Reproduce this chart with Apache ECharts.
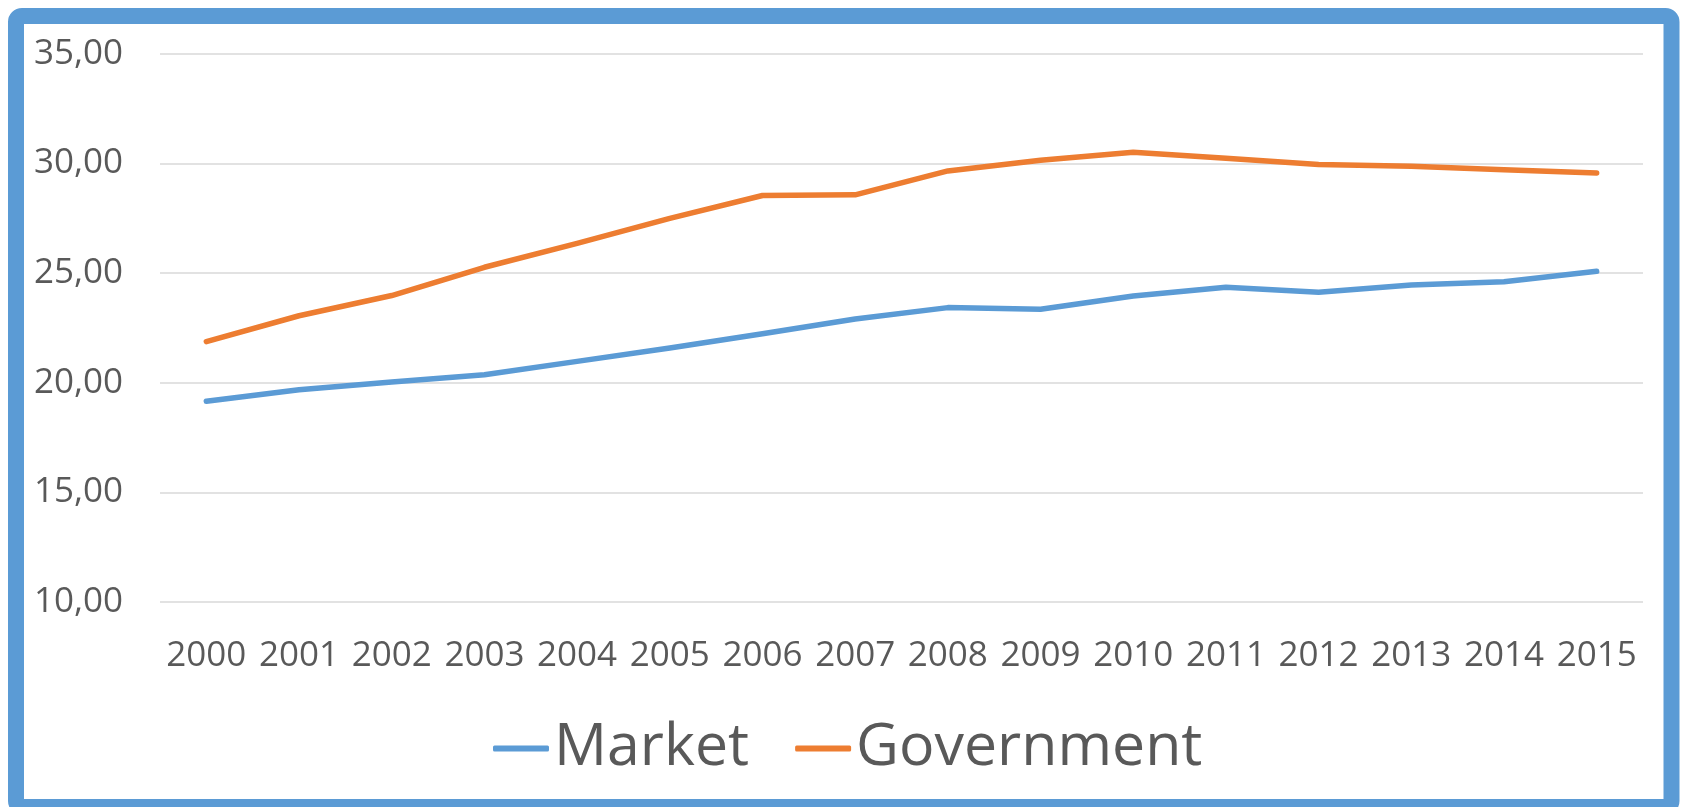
<!DOCTYPE html>
<html>
<head>
<meta charset="utf-8">
<script src="https://cdn.jsdelivr.net/npm/echarts@6/dist/echarts.min.js"></script>
<style>
html,body{margin:0;padding:0;background:#fff;}
#chart{width:1681px;height:807px;}
</style>
</head>
<body>
<div id="chart"></div>
<script>
var years = ['2000','2001','2002','2003','2004','2005','2006','2007','2008','2009','2010','2011','2012','2013','2014','2015'];
var market = [19.15, 19.68, 20.03, 20.36, 20.97, 21.58, 22.23, 22.90, 23.42, 23.35, 23.95, 24.35, 24.12, 24.45, 24.60, 25.08];
var government = [21.87, 23.05, 23.97, 25.26, 26.35, 27.49, 28.53, 28.56, 29.65, 30.14, 30.50, 30.23, 29.94, 29.86, 29.71, 29.56];
var seriesNames = ['Market', 'Government'];
var yMin = 10, yMax = 35, yStep = 5;

var chart = echarts.init(document.getElementById('chart'), null, {renderer: 'canvas'});
var textColor = '#595959';
var fontFam = '"Open Sans", "Noto Sans", sans-serif';

chart.setOption({
  animation: false,
  backgroundColor: '#ffffff',
  grid: {left: 160, right: 38, top: 53.6, bottom: 205, containLabel: false},
  graphic: [{
    type: 'rect',
    z: 100,
    silent: true,
    shape: {x: 16, y: 16, width: 1655.5, height: 791, r: 6},
    style: {fill: null, stroke: '#5B9BD5', lineWidth: 16}
  }],
  legend: {
    data: seriesNames,
    left: 488,
    top: 714,
    itemWidth: 56,
    itemHeight: 6,
    itemGap: 46,
    icon: 'roundRect',
    textStyle: {fontSize: 59, color: textColor, fontFamily: fontFam}
  },
  xAxis: {
    type: 'category',
    data: years,
    boundaryGap: true,
    axisLine: {show: false},
    axisTick: {show: false},
    axisLabel: {fontSize: 35, color: textColor, fontFamily: fontFam, margin: 37, interval: 0}
  },
  yAxis: {
    type: 'value',
    min: yMin,
    max: yMax,
    interval: yStep,
    axisLine: {show: false},
    axisTick: {show: false},
    splitLine: {lineStyle: {color: '#D9D9D9', width: 1.5}},
    axisLabel: {
      fontSize: 35, color: textColor, fontFamily: fontFam, margin: 37,
      formatter: function (v) { return v.toFixed(2).replace('.', ','); }
    }
  },
  series: [
    {
      name: seriesNames[0], type: 'line', data: market,
      showSymbol: false, symbol: 'none', smooth: false,
      color: '#5B9BD5',
      lineStyle: {color: '#5B9BD5', width: 5.5, cap: 'round', join: 'round'}
    },
    {
      name: seriesNames[1], type: 'line', data: government,
      showSymbol: false, symbol: 'none', smooth: false,
      color: '#ED7D31',
      lineStyle: {color: '#ED7D31', width: 5.5, cap: 'round', join: 'round'}
    }
  ]
});
</script>
</body>
</html>
